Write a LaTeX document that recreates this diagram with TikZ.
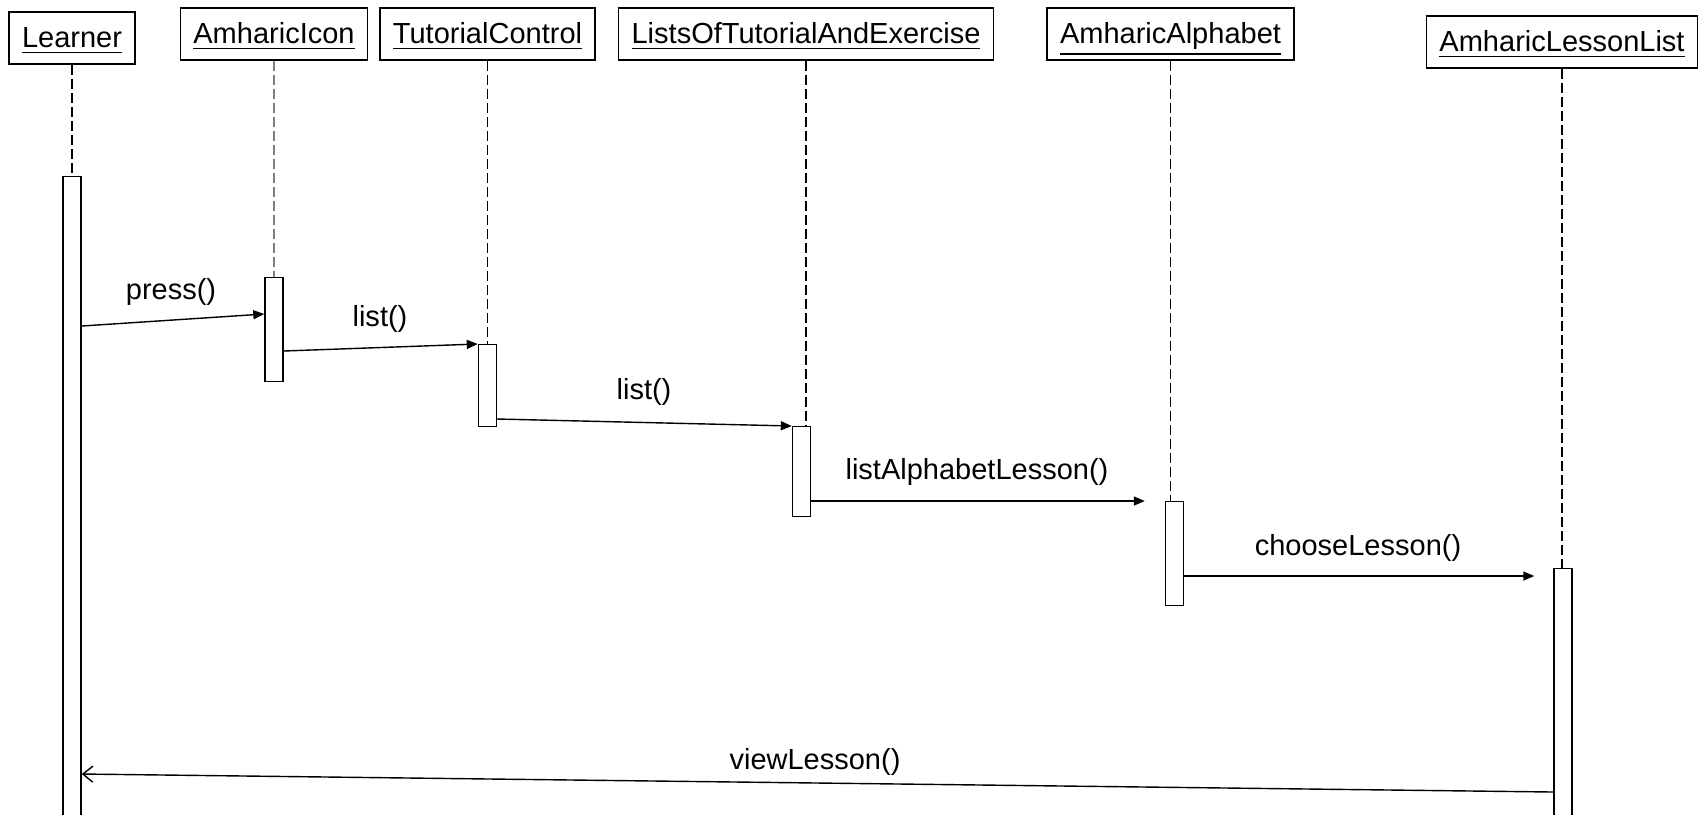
\documentclass[tikz,border=0pt]{standalone}
\usepackage{fontspec}
\setmainfont{Liberation Sans}
\usetikzlibrary{arrows.meta}
\tikzset{
   obj/.style={draw,line width=0.4pt,inner xsep=0.13cm,inner ysep=0pt,
      text height=0.24cm,text depth=0.06cm,
      minimum height=0.52cm,font=\fontsize{8.25}{10}\selectfont},
   bar/.style={draw,fill=white,line width=0.4pt,minimum width=0.18cm,
      inner sep=0pt,anchor=north},
   life/.style={dash pattern=on 0.1cm off 0.04cm,line width=0.4pt},
   msg/.style={-{Triangle[length=0.11cm,width=0.09cm]},line width=0.4pt},
   ret/.style={-{Straight Barb[length=0.1cm,width=0.16cm]},line width=0.4pt},
   lbl/.style={font=\fontsize{8.25}{10}\selectfont}
}
\begin{document}
\begin{tikzpicture}[x=0.01cm,y=-0.01cm]
   \useasboundingbox (0,0) rectangle (1698,814);

   \node[obj] (learner) at (72,38) {\underline{Learner}};
   \node[obj] (icon) at (274,34) {\underline{AmharicIcon}};
   \node[obj] (ctrl) at (487.5,34) {\underline{TutorialControl}};
   \node[obj] (lists) at (806,34) {\underline{ListsOfTutorialAndExercise}};
   \node[obj] (alpha) at (1170.5,34) {\underline{AmharicAlphabet}};
   \node[obj] (lesson) at (1562,42) {\underline{AmharicLessonList}};

   \node[bar,minimum height=6.5cm] (bLearner) at (72,176) {};
   \node[bar,minimum height=1.04cm] (bIcon) at (274,277) {};
   \node[bar,minimum height=0.82cm] (bCtrl) at (487.5,344) {};
   \node[bar,minimum height=0.9cm] (bLists) at (801.5,426) {};
   \node[bar,minimum height=1.04cm] (bAlpha) at (1174.5,501) {};
   \node[bar,minimum height=2.6cm] (bLesson) at (1563,568) {};

   \draw[life] (learner.south) -- (learner.south |- bLearner.north);
   \draw[life,color=gray] (icon.south) -- (icon.south |- bIcon.north);
   \draw[life] (ctrl.south) -- (ctrl.south |- bCtrl.north);
   \draw[life] (lists.south) -- (lists.south |- bLists.north);
   \draw[life] (alpha.south) -- (alpha.south |- bAlpha.north);
   \draw[life] (lesson.south) -- (lesson.south |- bLesson.north);

   \draw[msg] (bLearner.east |- 0,326) -- (bIcon.west |- 0,314);
   \node[lbl] (mPress) at (171,292) {press()};
   \draw[msg] (bIcon.east |- 0,351) -- (bCtrl.west |- 0,344);
   \node[lbl] (mList) at (380,319) {list()};
   \draw[msg] (bCtrl.east |- 0,419) -- (bLists.west |- 0,426);
   \node[lbl] (mList2) at (644,392) {list()};
   \draw[msg,shorten >=0.2cm] (bLists.east |- 0,501) -- (bAlpha.west |- 0,501);
   \node[lbl] (mAlpha) at (977,472) {listAlphabetLesson()};
   \draw[msg,shorten >=0.19cm] (bAlpha.east |- 0,576) -- (bLesson.west |- 0,576);
   \node[lbl] (mChoose) at (1358,548) {chooseLesson()};
   \draw[ret] (bLesson.west |- 0,792) -- (bLearner.east |- 0,774);
   \node[lbl] (mView) at (815,762) {viewLesson()};
 \end{tikzpicture}
\end{document}
